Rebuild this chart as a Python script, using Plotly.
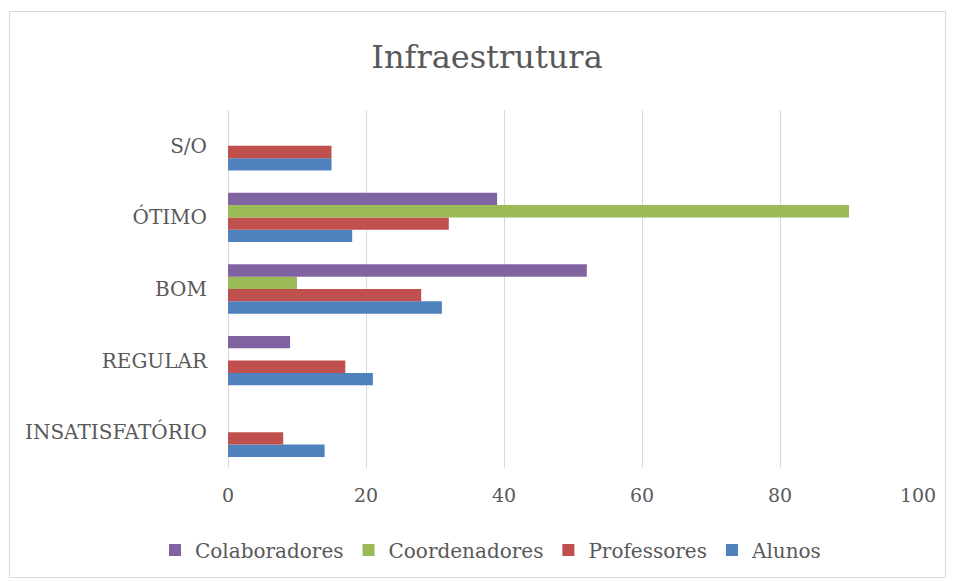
import plotly.graph_objects as go

categories = ["INSATISFATÓRIO", "REGULAR", "BOM", "ÓTIMO", "S/O"]
alunos = [14, 21, 31, 18, 15]
professores = [8, 17, 28, 32, 15]
coordenadores = [0, 0, 10, 90, 0]
colaboradores = [0, 9, 52, 39, 0]

series = [
    ("Alunos", alunos, "#4F81BD"),
    ("Professores", professores, "#C0504D"),
    ("Coordenadores", coordenadores, "#9BBB59"),
    ("Colaboradores", colaboradores, "#8064A2"),
]

FONT = "DejaVu Serif"
TXT = "#595959"

fig = go.Figure()
for name, vals, color in series:
    fig.add_trace(go.Bar(
        y=categories, x=vals, name=name, orientation="h",
        marker=dict(color=color, line=dict(width=0)),
    ))

L, R, T, B = 228, 37, 110, 113
W, H = 955, 581
pw, ph = W - L - R, H - T - B

def px_x(p):
    return (p - L) / pw

def px_y(p):
    return (H - B - p) / ph

fig.update_layout(
    width=W, height=H,
    margin=dict(l=L, r=R, t=T, b=B),
    paper_bgcolor="white", plot_bgcolor="white",
    barmode="group", bargap=0.31, bargroupgap=0,
    font=dict(family=FONT, color=TXT),
    title=dict(text="Infraestrutura", x=487 / W, xref="container", xanchor="center",
               y=1 - 57 / H, yref="container", yanchor="middle",
               font=dict(family=FONT, size=32, color=TXT)),
    xaxis=dict(range=[0, 100], dtick=20, showgrid=True, gridcolor="#D9D9D9",
               gridwidth=1, zeroline=True, zerolinecolor="#D9D9D9", zerolinewidth=1,
               showline=False, ticks="", tickfont=dict(size=19, color=TXT),
               ticklabelstandoff=14, fixedrange=True),
    yaxis=dict(categoryorder="array", categoryarray=categories, showgrid=False,
               zeroline=False, showline=False, ticks="",
               tickfont=dict(size=20, color=TXT), ticklabelstandoff=20),
    legend=dict(orientation="h", traceorder="reversed", x=px_x(491), xanchor="center",
                y=px_y(550), yanchor="middle", font=dict(size=20, color=TXT),
                itemwidth=30, itemsizing="constant", tracegroupgap=0),
    shapes=[dict(type="rect", xref="paper", yref="paper",
                 x0=px_x(9.5), x1=px_x(945.5), y0=px_y(577.5), y1=px_y(11.5),
                 line=dict(color="#D9D9D9", width=1), fillcolor="rgba(0,0,0,0)",
                 layer="below")],
    showlegend=True,
)

fig.write_html("out.html", config={"displayModeBar": False},
               post_script="document.body.style.margin='0';document.body.style.padding='0';")
